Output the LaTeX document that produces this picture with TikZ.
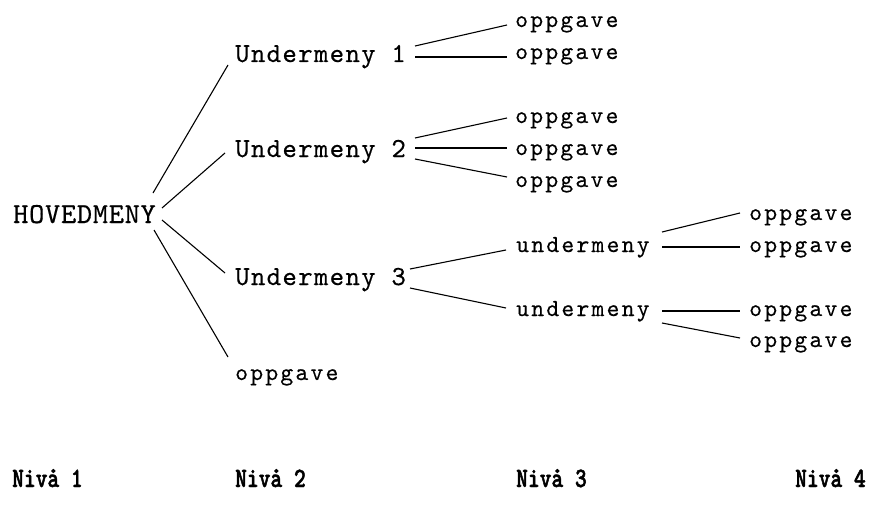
\documentclass[tikz,border=0pt]{standalone}
\usepackage{fontspec}
\usetikzlibrary{calc}
\newfontfamily\hovfont{lmmono10-regular}[Extension=.otf,LetterSpace=2.4,FakeBold=0.4]
\newfontfamily\undfont{lmmono10-regular}[Extension=.otf,LetterSpace=4.8,FakeBold=0.4]
\newfontfamily\oppfont{lmmono10-regular}[Extension=.otf,LetterSpace=9,FakeBold=0.3]
\newfontfamily\nivfont{lmmonolt10-bold}[Extension=.otf,FakeStretch=0.8,FakeBold=1.6]
\tikzset{
  lbl/.style={inner sep=0pt, anchor=base west},
  hov/.style={lbl, font=\fontsize{29pt}{32pt}\hovfont},
  und/.style={lbl, font=\fontsize{27.5pt}{30pt}\undfont},
  opp/.style={lbl, font=\fontsize{24.5pt}{27pt}\oppfont},
  niv/.style={lbl, font=\fontsize{28pt}{30pt}\nivfont},
  con/.style={line width=1.1pt, black}
}
\begin{document}
\begin{tikzpicture}[x=1pt, y=-1pt]
\useasboundingbox (0,0) rectangle (891,511);
% level 1
\node[hov] (h) at (13,223) {HOVEDMENY};
% level 2
\node[und] (u1) at (235,62) {Undermeny 1};
\node[und] (u2) at (235,157) {Undermeny 2};
\node[und] (u3) at (235,285) {Undermeny 3};
\node[opp] (o2) at (235,380) {oppgave};
% level 3
\node[opp] (a1) at (515,27) {oppgave};
\node[opp] (a2) at (515,59) {oppgave};
\node[opp] (a3) at (515,123) {oppgave};
\node[opp] (a4) at (515,155) {oppgave};
\node[opp] (a5) at (515,187) {oppgave};
\node[opp] (s1) at (516,252) {undermeny};
\node[opp] (s2) at (516,316) {undermeny};
% level 4
\node[opp] (b1) at (749,220) {oppgave};
\node[opp] (b2) at (749,252) {oppgave};
\node[opp] (b3) at (749,316) {oppgave};
\node[opp] (b4) at (749,347) {oppgave};
% level labels
\node[niv] (n1) at (12,487) {Nivå 1};
\node[niv] (n2) at (235,487) {Nivå 2};
\node[niv] (n3) at (516,487) {Nivå 3};
\node[niv] (n4) at (795,487) {Nivå 4};
% connectors level 1 -> 2
\draw[con] ($(h.base west)+(140,-30)$) -- ($(u1.base west)+(-7,3)$);
\draw[con] ($(h.base west)+(149,-15)$) -- ($(u2.base west)+(-10,-4)$);
\draw[con] ($(h.base west)+(149,-3)$) -- ($(u3.base west)+(-10,-12)$);
\draw[con] ($(h.base west)+(141,7)$) -- ($(o2.base west)+(-7,-23)$);
% level 2 -> 3
\draw[con] ($(u1.base west)+(180,-16)$) -- ($(a1.base west)+(-8,-2)$);
\draw[con] ($(u1.base west)+(180,-5)$) -- ($(a2.base west)+(-8,-2)$);
\draw[con] ($(u2.base west)+(180,-19)$) -- ($(a3.base west)+(-8,-5)$);
\draw[con] ($(u2.base west)+(180,-9)$) -- ($(a4.base west)+(-8,-7)$);
\draw[con] ($(u2.base west)+(180,2)$) -- ($(a5.base west)+(-8,-10)$);
\draw[con] ($(u3.base west)+(175,-16)$) -- ($(s1.base west)+(-10,-2)$);
\draw[con] ($(u3.base west)+(175,3)$) -- ($(s2.base west)+(-10,-8)$);
% level 3 -> 4
\draw[con] ($(s1.base west)+(146,-20)$) -- ($(b1.base west)+(-9,-7)$);
\draw[con] ($(s1.base west)+(146,-5)$) -- ($(b2.base west)+(-9,-5)$);
\draw[con] ($(s2.base west)+(146,-5)$) -- ($(b3.base west)+(-9,-5)$);
\draw[con] ($(s2.base west)+(146,7)$) -- ($(b4.base west)+(-9,-9)$);
\end{tikzpicture}
\end{document}
